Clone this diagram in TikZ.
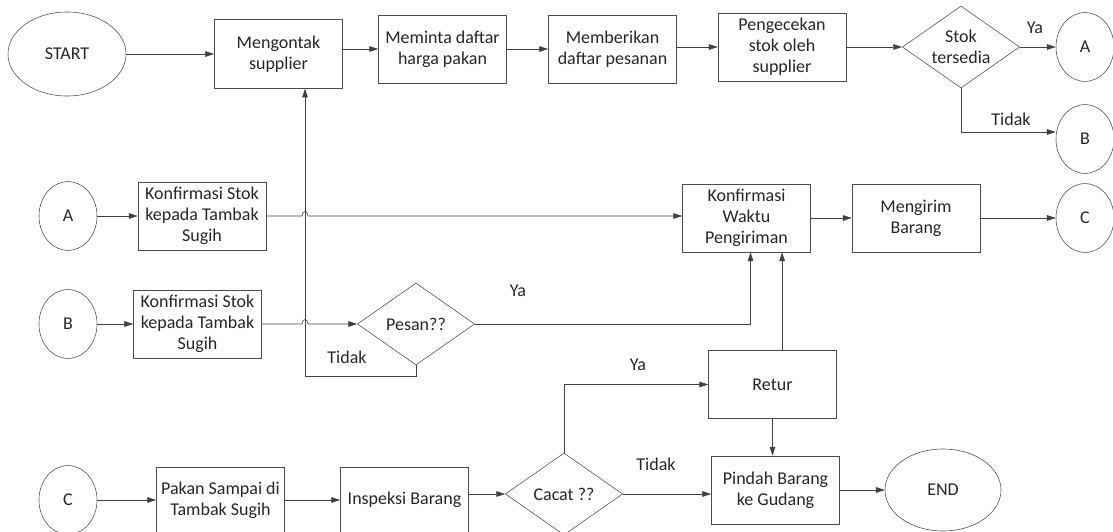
\documentclass[tikz,border=0pt]{standalone}
\usepackage{fontspec}
\setmainfont{Carlito}
\usepackage{tikz}
\usetikzlibrary{shapes.geometric,arrows.meta,positioning,calc}

\begin{document}
\begin{tikzpicture}[x=0.025cm, y=-0.025cm,
		font=\fontsize{12.8}{15}\selectfont,
		proses/.style={draw=black!70, rectangle, text=black!85, minimum width=3.2cm, minimum height=1.7cm, inner sep=0pt, align=center},
		terminal/.style={draw=black!70, ellipse, text=black!85, minimum width=2.95cm, minimum height=2.1cm, inner sep=0pt},
		konektor/.style={draw=black!70, ellipse, text=black!85, minimum width=1.45cm, minimum height=1.72cm, inner sep=0pt},
		keputusan/.style={draw=black!70, diamond, text=black!85, shape aspect=1.43, minimum width=2.93cm, minimum height=2.05cm, inner sep=0pt, align=center},
		label/.style={text=black!85, inner sep=0pt},
		panah/.style={draw=black!75, -{Triangle[length=2.2mm,width=1.4mm]}}]

		\useasboundingbox (0,0) rectangle (1113,532);

		% baris atas
		\node[terminal] (start) at (67,54) {START};
		\node[proses, minimum height=1.72cm] (kontak) at (278.5,54) {Mengontak\\supplier};
		\node[proses] (minta) at (442.5,49) {Meminta daftar\\harga pakan};
		\node[proses] (beri) at (612.5,49) {Memberikan\\daftar pesanan};
		\node[proses] (cek) at (782,47) {Pengecekan\\stok oleh\\supplier};
		\node[keputusan] (stok) at (961,47) {Stok\\tersedia};
		\node[konektor] (ka) at (1085,47) {A};
		\node[konektor] (kb) at (1085,139) {B};

		% baris tengah
		\node[konektor] (la) at (68,216) {A};
		\node[proses] (konfa) at (202,216) {Konfirmasi Stok\\kepada Tambak\\Sugih};
		\node[proses] (konfw) at (746.5,218) {Konfirmasi\\Waktu\\Pengiriman};
		\node[proses] (kirim) at (916,218) {Mengirim\\Barang};
		\node[konektor] (kc) at (1085,218) {C};

		\node[konektor] (lb) at (68,324) {B};
		\node[proses] (konfb) at (197.5,324) {Konfirmasi Stok\\kepada Tambak\\Sugih};
		\node[keputusan] (pesan) at (416,324) {Pesan??};
		\node[proses] (retur) at (772.5,384.5) {Retur};

		% baris bawah
		\node[konektor] (lc) at (68,500) {C};
		\node[proses, minimum height=1.65cm] (pakan) at (220.5,500) {Pakan Sampai di\\Tambak Sugih};
		\node[proses, minimum height=1.65cm] (inspeksi) at (404.5,500) {Inspeksi Barang};
		\node[keputusan] (cacat) at (564,494) {Cacat ??};
		\node[proses] (pindah) at (775.5,490) {Pindah Barang\\ke Gudang};
		\node[terminal, minimum width=2.9cm, minimum height=2.05cm] (end) at (943,490) {END};

		\coordinate (jalur) at (305,376);
		\coordinate (tdk) at (961,132);

		% label keputusan
		\node[label] (ya1) at (1035,28) {Ya};
		\node[label] (tidak1) at (1011,119) {Tidak};
		\node[label] (ya2) at (518,291) {Ya};
		\node[label] (tidak2) at (347,357) {Tidak};
		\node[label] (ya3) at (638,365) {Ya};
		\node[label] (tidak3) at (656,464) {Tidak};

		\draw[panah] (start) -- (kontak);
		\draw[panah] (kontak.east |- minta) -- (minta);
		\draw[panah] (minta) -- (beri);
		\draw[panah] (beri.east |- cek) -- (cek);
		\draw[panah] (cek) -- (stok);
		\draw[panah] (stok) -- (ka);
		\draw[panah] (stok.south) -- (tdk) -- (tdk -| kb.west);

		\draw[panah] (la) -- (konfa);
		\draw[panah] (konfa.east) -- ($(konfa.east -| jalur)+(-3,0)$) .. controls +(0,-6) and +(0,-6) .. ($(konfa.east -| jalur)+(3,0)$) -- (konfw.west |- konfa.east);
		\draw[panah] (konfw) -- (kirim);
		\draw[panah] (kirim) -- (kc);

		\draw[panah] (lb) -- (konfb);
		\draw[panah] (konfb.east) -- ($(konfb.east -| jalur)+(-3,0)$) .. controls +(0,-6) and +(0,-6) .. ($(konfb.east -| jalur)+(3,0)$) -- (pesan.west |- konfb.east);
		\draw[panah] (pesan.east) -| ([xshift=0.1cm]konfw.south);
		\draw[panah] (pesan.south) |- (jalur) -- (jalur |- kontak.south);

		\draw[panah] (lc) -- (pakan);
		\draw[panah] (pakan) -- (inspeksi);
		\draw[panah] (inspeksi.east |- cacat) -- (cacat);
		\draw[panah] (cacat.north) |- (retur.west);
		\draw[panah] (cacat) -- (cacat -| pindah.west);
		\draw[panah] (retur) -- (retur |- pindah.north);
		\draw[panah] ([xshift=0.24cm]retur.north) -- ([xshift=0.24cm]retur.north |- konfw.south);
		\draw[panah] (pindah) -- (end);
	\end{tikzpicture}
\end{document}
